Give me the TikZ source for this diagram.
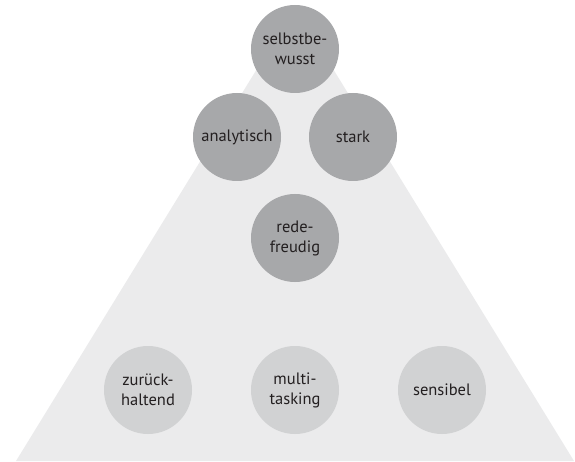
\documentclass[tikz,border=0pt]{standalone}
\usepackage{fontspec}
\setmainfont{PT Sans}
\definecolor{tri}{HTML}{EBEBEC}
\definecolor{dark}{HTML}{A7A8AA}
\definecolor{light}{HTML}{D1D2D3}
\definecolor{txt}{HTML}{231F20}
\begin{document}
\begin{tikzpicture}[x=1pt,y=1pt,
  bubble/.style={circle,minimum size=88pt,inner sep=0pt,text=txt,align=center,
    font=\fontsize{16.5}{20}\selectfont},
  upper/.style={bubble,fill=dark},
  lower/.style={bubble,fill=light}]
\useasboundingbox (0,0) rectangle (575,461);
\fill[tri] (16,0) coordinate (bl) -- (574,0) coordinate (br) -- (295,454) coordinate (ap) -- cycle;
\node[upper] (selbst) at (295,412) {selbstbe-\\wusst};
\node[upper] (analyt) at (237,324) {analytisch};
\node[upper] (stark) at (353,324) {stark};
\node[upper] (rede) at (295,223) {rede-\\freudig};
\node[lower] (zurueck) at (148,71) {zurück-\\haltend};
\node[lower] (multi) at (295,71) {multi-\\tasking};
\node[lower] (sensibel) at (442,71) {sensibel};
\end{tikzpicture}
\end{document}
